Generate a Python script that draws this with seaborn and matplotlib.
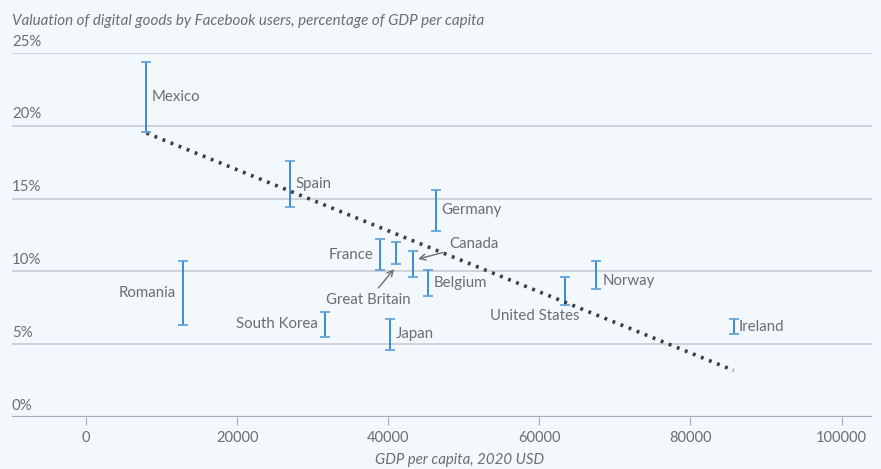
import numpy as np
import pandas as pd
import matplotlib.pyplot as plt
import seaborn as sns

countries = ["Mexico", "Spain", "Germany", "France", "Great Britain", "Canada",
             "Belgium", "Romania", "South Korea", "Japan", "United States",
             "Norway", "Ireland"]
gdp = [8000, 27000, 46300, 38900, 41000, 43300, 45300, 12850, 31650, 40250,
       63400, 67500, 85700]
low = [19.6, 14.4, 12.8, 10.1, 10.5, 9.6, 8.3, 6.3, 5.5, 4.6, 7.7, 8.8, 5.7]
high = [24.4, 17.6, 15.6, 12.2, 12.05, 11.4, 10.1, 10.7, 7.2, 6.75, 9.6, 10.7, 6.7]

trend_x = [8000, 85700]
trend_y = [19.5, 3.2]

yticks = [0, 5, 10, 15, 20, 25]
xticks = [0, 20000, 40000, 60000, 80000, 100000]

BG = "#f3f8fc"
TXT = "#6b6e73"
BLUE = "#2b84d2"

sns.set_theme(style="white")
plt.rcParams["font.family"] = ["Lato", "DejaVu Sans"]

fig = plt.figure(figsize=(8.81, 4.69), dpi=100, facecolor=BG)
ax = fig.add_axes([0.0136, 0.111, 0.976, 0.776])
ax.set_facecolor(BG)

# long form for range bars
rows = []
for c, x, lo, hi in zip(countries, gdp, low, high):
    rows.append({"country": c, "gdp": x, "val": lo})
    rows.append({"country": c, "gdp": x, "val": hi})
df = pd.DataFrame(rows)

for v in yticks:
    ax.axhline(v, color="#c8ccd2" if v else "#a9adb3", lw=1.2 if v else 1.6, zorder=0)

sns.lineplot(data=df, x="gdp", y="val", units="country", estimator=None,
             color=BLUE, lw=1.3, ax=ax, sort=False)
sns.scatterplot(data=df, x="gdp", y="val", marker="_", s=60, color="#64a5de",
                linewidth=1.3, ax=ax, zorder=3)

tdf = pd.DataFrame({"x": trend_x, "y": trend_y})
sns.lineplot(data=tdf, x="x", y="y", color="#3b3f45", lw=2.6,
             linestyle=(0, (0.8, 1.6)), ax=ax)

ax.set_xlim(-9800, 104000)
ax.set_ylim(0, 25)
ax.set_xticks(xticks)
ax.set_xticklabels([str(t) for t in xticks], color=TXT, fontsize=10.5)
ax.tick_params(axis="x", length=6, width=0.8, color="#a9adb3", bottom=True, pad=4)
ax.set_yticks([])
for s in ax.spines.values():
    s.set_visible(False)
ax.set_xlabel("GDP per capita, 2020 USD", color=TXT, fontsize=10.8,
              style="italic", labelpad=3)
ax.xaxis.set_label_coords(0.521, -0.1)
ax.set_ylabel("")

trans = ax.get_yaxis_transform()
for v in yticks:
    ax.text(0, v + 0.3, f"{v}%", transform=trans, ha="left", va="bottom",
            color=TXT, fontsize=10.8)

fig.text(0.0136, 0.955, "Valuation of digital goods by Facebook users, percentage of GDP per capita",
         color=TXT, fontsize=10.9, style="italic", ha="left", va="center")

fs = 10.8
idx = {c: i for i, c in enumerate(countries)}
def mid(c):
    i = idx[c]
    return (low[i] + high[i]) / 2

for c in ["Mexico", "Spain", "Germany", "Belgium", "Japan", "Ireland"]:
    ax.annotate(c, (gdp[idx[c]], mid(c)), xytext=(4, 0), textcoords="offset points",
                ha="left", va="center", color=TXT, fontsize=fs)
i = idx["Norway"]
ax.annotate("Norway", (gdp[i], mid("Norway")), xytext=(5, -4), textcoords="offset points",
            ha="left", va="center", color=TXT, fontsize=fs)
for c in ["France", "Romania", "South Korea"]:
    ax.annotate(c, (gdp[idx[c]], mid(c)), xytext=(-5, 0), textcoords="offset points",
                ha="right", va="center", color=TXT, fontsize=fs)

i = idx["United States"]
ax.annotate("United States", (gdp[i], low[i]), xytext=(-22, -8), textcoords="offset points",
            ha="center", va="center", color=TXT, fontsize=fs)
i = idx["Canada"]
ax.annotate("Canada", (gdp[i] + 300, 10.8), xytext=(24, 11), textcoords="offset points",
            ha="left", va="center", color=TXT, fontsize=fs,
            arrowprops=dict(arrowstyle="->", color="#6b6e73", lw=1))
i = idx["Great Britain"]
ax.annotate("Great Britain", (gdp[i], low[i] - 0.2), xytext=(-20, -24), textcoords="offset points",
            ha="center", va="center", color=TXT, fontsize=fs,
            arrowprops=dict(arrowstyle="->", color="#6b6e73", lw=1))

fig.savefig("out.png", dpi=100, facecolor=BG)
